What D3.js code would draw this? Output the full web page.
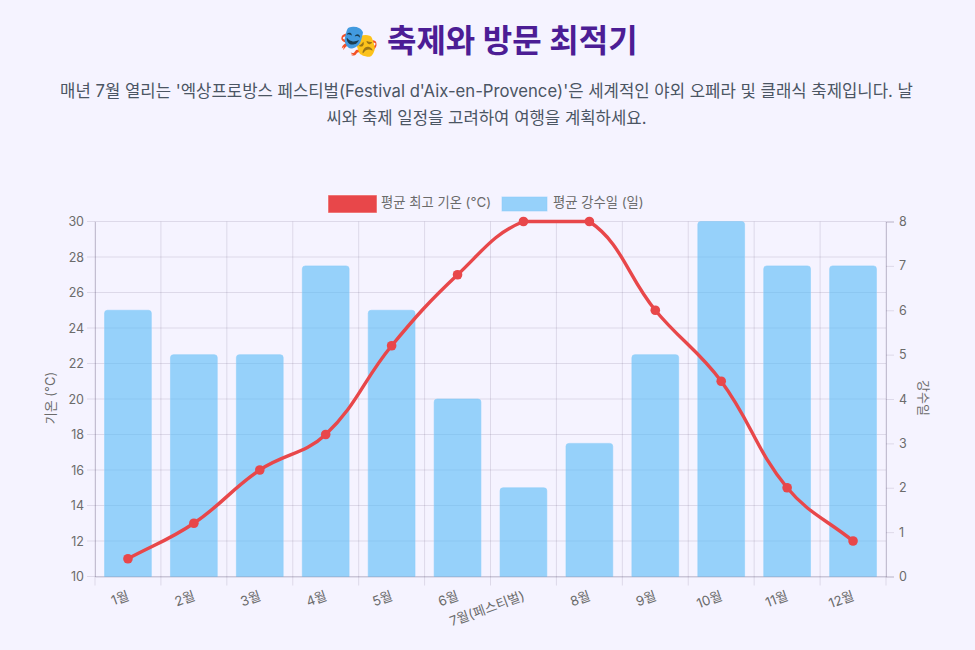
<!DOCTYPE html>
<html lang="ko">
<head>
<meta charset="utf-8">
<script src="https://cdn.jsdelivr.net/npm/d3@7"></script>
<style>
  html, body { margin: 0; padding: 0; background: #f5f3ff; }
  svg { display: block; font-family: Inter, "Noto Sans CJK KR", sans-serif; }
</style>
</head>
<body>
<div id="chart"></div>
<script>
const months = ['1월', '2월', '3월', '4월', '5월', '6월', '7월(페스티벌)', '8월', '9월', '10월', '11월', '12월'];
const maxTemp = [11, 13, 16, 18, 23, 27, 30, 30, 25, 21, 15, 12];
const rainDays = [6, 5, 5, 7, 6, 4, 2, 3, 5, 8, 7, 7];
const tempTicks = [10, 12, 14, 16, 18, 20, 22, 24, 26, 28, 30];
const rainTicks = [0, 1, 2, 3, 4, 5, 6, 7, 8];
const legendLabels = ['평균 최고 기온 (°C)', '평균 강수일 (일)'];
const titleText = '🎭 축제와 방문 최적기';
const introLines = [
  "매년 7월 열리는 '엑상프로방스 페스티벌(Festival d'Aix-en-Provence)'은 세계적인 야외 오페라 및 클래식 축제입니다. 날",
  '씨와 축제 일정을 고려하여 여행을 계획하세요.'
];

const chart_width = 975;
const chart_height = 650;
const plotLeft = 95, plotRight = 886, plotTop = 221.5, plotBottom = 576.5;
const gridColor = 'rgba(60,50,85,0.13)';
const tickColor = '#6b6b6b';

const svg = d3.select('#chart').append('svg')
  .attr('width', chart_width)
  .attr('height', chart_height);

// heading
svg.append('text')
  .attr('x', 488.5).attr('y', 52)
  .attr('text-anchor', 'middle')
  .attr('font-size', 32).attr('font-weight', 700)
  .attr('fill', '#4c1d95')
  .text(titleText);

svg.selectAll('.intro')
  .data(introLines)
  .enter()
  .append('text')
  .attr('class', 'intro')
  .attr('x', 486.5)
  .attr('y', (d, i) => 97 + i * 27)
  .attr('text-anchor', 'middle')
  .attr('font-size', 16.7)
  .attr('fill', '#4b5563')
  .text(d => d);

// scales
const x = d3.scaleBand().domain(months).range([plotLeft, plotRight]);
const yTemp = d3.scaleLinear().domain([10, 30]).range([plotBottom, plotTop]);
const yRain = d3.scaleLinear().domain([0, 8]).range([plotBottom, plotTop]);
const barWidth = x.bandwidth() * 0.71;

// grid
const edges = d3.range(months.length + 1).map(i => plotLeft + i * x.step());
svg.append('g').selectAll('line')
  .data(edges)
  .enter()
  .append('line')
  .attr('x1', d => d).attr('x2', d => d)
  .attr('y1', plotTop).attr('y2', plotBottom + 9)
  .attr('stroke', gridColor);

svg.append('g').selectAll('line')
  .data(tempTicks)
  .enter()
  .append('line')
  .attr('x1', plotLeft - 8).attr('x2', plotRight)
  .attr('y1', d => yTemp(d)).attr('y2', d => yTemp(d))
  .attr('stroke', gridColor);

// bars
svg.append('g').selectAll('path')
  .data(rainDays)
  .enter()
  .append('path')
  .attr('d', (d, i) => {
    const bx = x(months[i]) + (x.bandwidth() - barWidth) / 2;
    const by = yRain(d), r = 3;
    const p = d3.path();
    p.moveTo(bx, plotBottom);
    p.lineTo(bx, by + r);
    p.quadraticCurveTo(bx, by, bx + r, by);
    p.lineTo(bx + barWidth - r, by);
    p.quadraticCurveTo(bx + barWidth, by, bx + barWidth, by + r);
    p.lineTo(bx + barWidth, plotBottom);
    p.closePath();
    return p.toString();
  })
  .attr('fill', 'rgba(87,187,247,0.6)')
  .attr('stroke', 'rgba(140,205,250,0.55)')
  .attr('stroke-width', 1);

// axes
const axisL = d3.axisLeft(yTemp).tickValues(tempTicks).tickSize(0).tickPadding(11);
const axisR = d3.axisRight(yRain).tickValues(rainTicks).tickSize(8).tickPadding(5);
const axisB = d3.axisBottom(x).tickSize(0);

const gl = svg.append('g').attr('transform', `translate(${plotLeft},0)`).call(axisL);
const gr = svg.append('g').attr('transform', `translate(${plotRight},0)`).call(axisR);
const gb = svg.append('g').attr('transform', `translate(0,${plotBottom})`).call(axisB);

[gl, gr, gb].forEach(g => {
  g.select('.domain').attr('stroke', 'rgba(60,50,85,0.22)');
  g.selectAll('.tick line').attr('stroke', gridColor);
  g.selectAll('text').attr('fill', tickColor).attr('font-size', 12.5)
    .attr('font-family', 'Inter, "Noto Sans CJK KR", sans-serif');
});

gb.selectAll('text')
  .attr('font-size', 13.3)
  .attr('text-anchor', 'end')
  .attr('dy', 0).attr('y', 0)
  .attr('transform', 'translate(2,23) rotate(-20)');

// axis titles
svg.append('text')
  .attr('transform', `translate(55,398) rotate(-90)`)
  .attr('text-anchor', 'middle')
  .attr('font-size', 13).attr('fill', tickColor)
  .text('기온 (°C)');

svg.append('text')
  .attr('transform', `translate(919,398) rotate(90)`)
  .attr('text-anchor', 'middle')
  .attr('font-size', 13).attr('fill', tickColor)
  .text('강수일');

// line with tension 0.4, control points kept inside the plot
const pts = maxTemp.map((d, i) => [x(months[i]) + x.bandwidth() / 2, yTemp(d)]);
const dist = (a, b) => Math.hypot(a[0] - b[0], a[1] - b[1]);
const tension = 0.4;
const ctrl = pts.map((p, i) => {
  const a = pts[Math.max(i - 1, 0)], b = pts[Math.min(i + 1, pts.length - 1)];
  const d1 = dist(a, p), d2 = dist(p, b);
  const s1 = d1 / (d1 + d2), s2 = d2 / (d1 + d2);
  const dx = b[0] - a[0], dy = b[1] - a[1];
  return {
    before: [p[0] - tension * s1 * dx, Math.max(plotTop, Math.min(plotBottom, p[1] - tension * s1 * dy))],
    after: [p[0] + tension * s2 * dx, Math.max(plotTop, Math.min(plotBottom, p[1] + tension * s2 * dy))]
  };
});
const linePath = d3.path();
linePath.moveTo(pts[0][0], pts[0][1]);
for (let i = 1; i < pts.length; i++) {
  linePath.bezierCurveTo(ctrl[i - 1].after[0], ctrl[i - 1].after[1], ctrl[i].before[0], ctrl[i].before[1], pts[i][0], pts[i][1]);
}
svg.append('path')
  .attr('d', linePath.toString())
  .attr('fill', 'none')
  .attr('stroke', '#e8474a')
  .attr('stroke-width', 3.4);

svg.append('g').selectAll('circle')
  .data(maxTemp)
  .enter()
  .append('circle')
  .attr('cx', (d, i) => x(months[i]) + x.bandwidth() / 2)
  .attr('cy', d => yTemp(d))
  .attr('r', 4.8)
  .attr('fill', '#e8474a');

// legend
svg.append('rect').attr('x', 328).attr('y', 195).attr('width', 49).attr('height', 18)
  .attr('fill', '#e8474a').attr('stroke', 'rgba(255,255,255,0.5)');
svg.append('text').attr('x', 381).attr('y', 206.5).attr('font-size', 13.3).attr('fill', tickColor)
  .text(legendLabels[0]);
svg.append('rect').attr('x', 502).attr('y', 197).attr('width', 45).attr('height', 14)
  .attr('fill', 'rgba(87,187,247,0.6)').attr('stroke', 'rgba(140,205,250,0.55)');
svg.append('text').attr('x', 553).attr('y', 206.5).attr('font-size', 13.3).attr('fill', tickColor)
  .text(legendLabels[1]);
</script>
</body>
</html>
